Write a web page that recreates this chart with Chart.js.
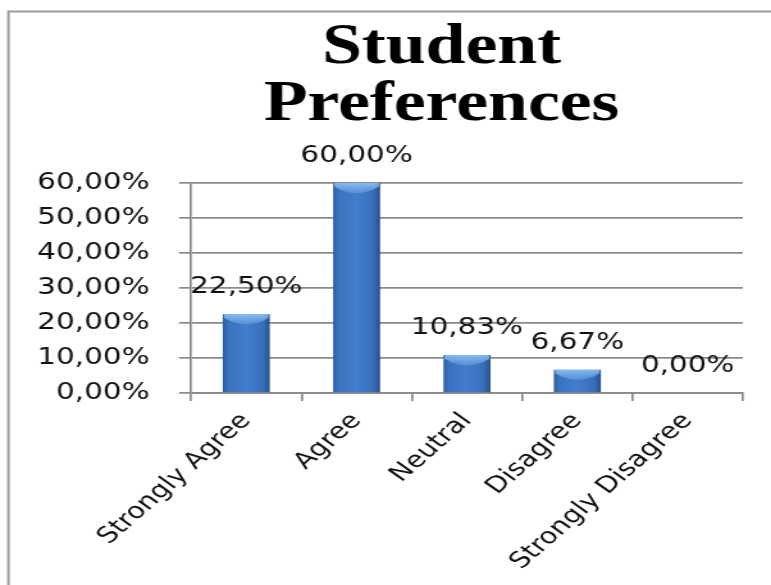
<!DOCTYPE html>
<html>
<head>
<meta charset="utf-8">
<script src="https://cdn.jsdelivr.net/npm/chart.js@4/dist/chart.umd.min.js"></script>
<style>
  html, body { margin: 0; padding: 0; background: #fff; overflow: hidden; }
</style>
</head>
<body>
<!-- the drawing is laid out on a narrower canvas and widened to the window -->
<canvas id="c" width="602" height="585" style="display:block;width:771px;height:585px"></canvas>
<script>
// ---- data ----
const categories = ['Strongly Agree', 'Agree', 'Neutral', 'Disagree', 'Strongly Disagree'];
const shares = [22.5, 60, 10.83, 6.67, 0];
const yTickValues = [0, 10, 20, 30, 40, 50, 60];
const titleLines = ['Student', 'Preferences'];

const pct = v => Number(v).toFixed(2).replace('.', ',') + '%';
const yTickLabels = yTickValues.map(pct);

const BAR_PCT = 0.426;
const GRID = '#8a8a8a';
const LABEL_FONT = 'DejaVu Sans';

// white page with a grey frame on the left and top
const framePlugin = {
  id: 'frame',
  beforeDraw(chart) {
    const c = chart.ctx;
    c.save();
    c.fillStyle = '#fff';
    c.fillRect(0, 0, chart.width, chart.height);
    c.strokeStyle = '#9c9c9c';
    c.lineWidth = 2;
    c.beginPath();
    c.moveTo(6.6, chart.height);
    c.lineTo(6.6, 11.5);
    c.lineTo(chart.width, 11.5);
    c.stroke();
    c.restore();
  }
};

// two-line serif heading
const headingPlugin = {
  id: 'heading',
  afterDraw(chart) {
    const c = chart.ctx;
    const a = chart.chartArea;
    const cx = a.left + (a.right - a.left) * 0.454;
    c.save();
    c.fillStyle = '#000';
    c.font = 'bold 56px "Liberation Serif", "Times New Roman", serif';
    c.textAlign = 'center';
    c.textBaseline = 'alphabetic';
    c.fillText(titleLines[0], cx, 63);
    c.fillText(titleLines[1], cx, 120);
    c.restore();
  }
};

// glossy cap on each column and its value above it
const barDecorPlugin = {
  id: 'barDecor',
  afterDatasetsDraw(chart) {
    const c = chart.ctx;
    const meta = chart.getDatasetMeta(0);
    c.save();
    meta.data.forEach((bar, i) => {
      const v = shares[i];
      const h = bar.base - bar.y;
      if (h > 4) {
        const l = bar.x - bar.width / 2, r = bar.x + bar.width / 2;
        const dip = Math.min(11, h * 0.6);
        const g = c.createLinearGradient(0, bar.y, 0, bar.y + dip);
        g.addColorStop(0, 'rgba(150,200,250,0.85)');
        g.addColorStop(1, 'rgba(120,175,235,0.35)');
        c.fillStyle = g;
        c.beginPath();
        c.moveTo(l + 1, bar.y);
        c.lineTo(r - 1, bar.y);
        c.lineTo(r - 1, bar.y + dip * 0.35);
        c.quadraticCurveTo(bar.x, bar.y + dip * 1.5, l + 1, bar.y + dip * 0.35);
        c.closePath();
        c.fill();
      }
      c.fillStyle = '#111';
      c.font = '23px "' + LABEL_FONT + '"';
      c.textAlign = 'center';
      c.textBaseline = 'middle';
      c.fillText(pct(v), bar.x, bar.y - 27);
    });
    c.restore();
  }
};

new Chart(document.getElementById('c'), {
  type: 'bar',
  data: {
    labels: categories,
    datasets: [{
      data: shares,
      barPercentage: BAR_PCT,
      categoryPercentage: 1,
      borderWidth: 0,
      backgroundColor(ctx) {
        const chart = ctx.chart;
        const xs = chart.scales.x;
        if (!chart.chartArea || !xs || ctx.type !== 'data') return '#3d78c3';
        const cx = xs.getPixelForValue(ctx.dataIndex);
        const half = (xs.width / categories.length) * BAR_PCT / 2;
        const g = chart.ctx.createLinearGradient(cx - half, 0, cx + half, 0);
        g.addColorStop(0, '#2d5fa2');
        g.addColorStop(0.12, '#3a73c0');
        g.addColorStop(0.5, '#437ecb');
        g.addColorStop(0.85, '#386fba');
        g.addColorStop(1, '#25518d');
        return g;
      }
    }]
  },
  options: {
    responsive: false,
    devicePixelRatio: 1,
    animation: false,
    layout: { padding: { left: 28, top: 183, right: 22, bottom: 0 } },
    plugins: { legend: { display: false }, title: { display: false }, tooltip: { enabled: false } },
    scales: {
      x: {
        grid: { display: true, drawOnChartArea: false, drawTicks: true, tickLength: 8, color: GRID, lineWidth: 1.7, offset: true },
        border: { display: true, color: GRID, width: 1.7 },
        ticks: {
          autoSkip: false, minRotation: 48, maxRotation: 48, padding: 7,
          color: '#111', font: { family: LABEL_FONT, size: 22.5 }
        },
        afterFit(s) { s.height = 192; }
      },
      y: {
        min: 0, max: 60,
        afterBuildTicks(s) { s.ticks = yTickValues.map(v => ({ value: v })); },
        ticks: {
          padding: 23, color: '#111', font: { family: LABEL_FONT, size: 23 },
          callback: (v) => yTickLabels[yTickValues.indexOf(v)]
        },
        grid: { color: GRID, lineWidth: 1.7, tickLength: 9.4 },
        border: { display: true, color: GRID, width: 1.7 },
        afterFit(s) { s.width = 121.2; }
      }
    }
  },
  plugins: [framePlugin, headingPlugin, barDecorPlugin]
});
</script>
</body>
</html>
